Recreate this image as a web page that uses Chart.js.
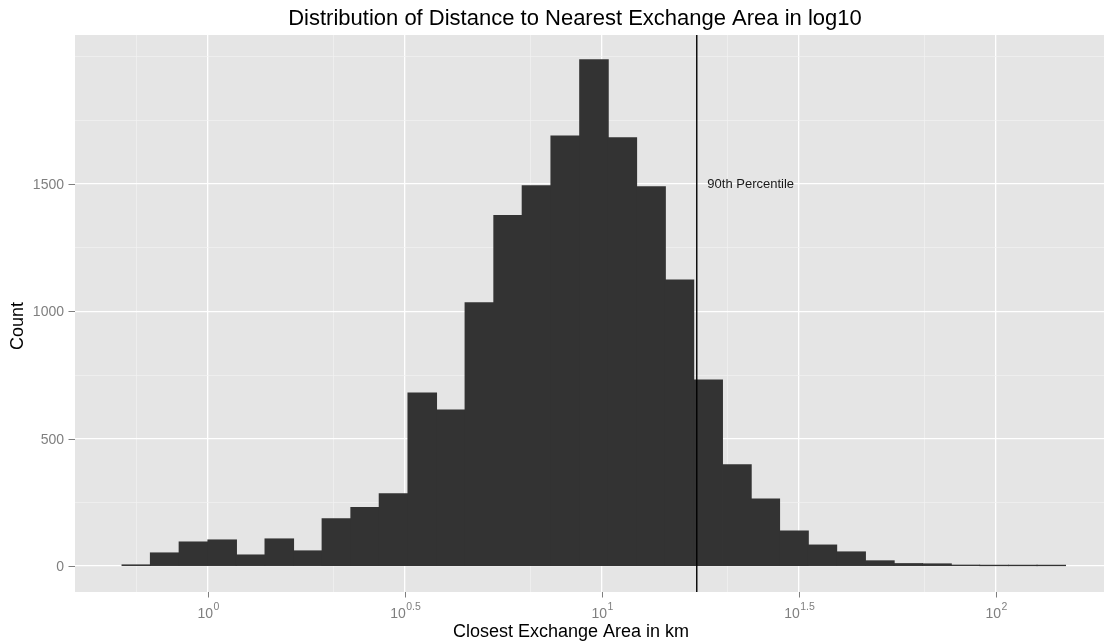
<!DOCTYPE html>
<html><head><meta charset="utf-8">
<script src="https://cdn.jsdelivr.net/npm/chart.js@4/dist/chart.umd.min.js"></script>
<style>html,body{margin:0;padding:0;background:#fff;} canvas{display:block;}</style>
</head><body>
<canvas id="c" width="1104" height="644"></canvas>
<script>
// ---- data ----
const chartTitle = 'Distribution of Distance to Nearest Exchange Area in log10';
const xAxisTitle = 'Closest Exchange Area in km';
const yAxisTitle = 'Count';
// histogram bin centres (log10 of km)
const binCentersLog10 = [-0.182,-0.110,-0.037,0.036,0.108,0.181,0.254,0.326,0.399,0.471,
  0.544,0.617,0.689,0.762,0.834,0.907,0.980,1.052,1.125,1.197,
  1.270,1.343,1.415,1.488,1.560,1.633,1.706,1.778,1.851,1.923,
  1.996,2.069,2.141];
const binCounts = [4,51,94,102,43,106,59,185,229,283,
  679,612,1033,1376,1493,1688,1987,1681,1489,1123,
  730,397,263,137,82,55,20,9,8,3,
  2,2,2];
const xTickValues = [0,0.5,1,1.5,2];
const xTickExponents = ['0','0.5','1','1.5','2'];
const yTickValues = [0,500,1000,1500];
const yTickLabels = ['0','500','1000','1500'];
const yMinorValues = [250,750,1250,1750,2000];
const percentile90Log10 = 1.241;
const percentileLabel = '90th Percentile';
const percentileLabelAt = {x: 1.378, y: 1500};

// ---- helpers ----
const X_MIN = -0.3377, X_MAX = 2.275, Y_MIN = -102, Y_MAX = 2085;
const ext = [xTickValues[0] - 0.5, ...xTickValues, xTickValues[xTickValues.length - 1] + 0.5];
const xMinor = [];
for (let i = 0; i < ext.length - 1; i++) {
  const m = Math.log10((Math.pow(10, ext[i]) + Math.pow(10, ext[i + 1])) / 2);
  if (m > X_MIN && m < X_MAX) xMinor.push(m);
}
const xGridTicks = [...xTickValues.map(v => ({value: v, isMajor: true})), ...xMinor.map(v => ({value: v, isMajor: false}))].sort((a, b) => a.value - b.value);
const yGridTicks = [...yTickValues.map(v => ({value: v, isMajor: true})), ...yMinorValues.map(v => ({value: v, isMajor: false}))].sort((a, b) => a.value - b.value);

const FONT = '"Liberation Sans", Arial, Helvetica, sans-serif';
const gridColor = c => (c.tick && c.tick.isMajor) ? '#FFFFFF' : '#F2F2F2';
const gridWidth = c => (c.tick && c.tick.isMajor) ? 1.3 : 0.7;

const ggPlugin = {
  id: 'gg',
  beforeDraw(chart) {
    const {ctx, chartArea: a} = chart;
    ctx.save();
    ctx.fillStyle = '#E5E5E5';
    ctx.fillRect(a.left, a.top, a.right - a.left, a.bottom - a.top);
    ctx.restore();
  },
  afterDatasetsDraw(chart) {
    const {ctx, chartArea: a, scales: {x, y}} = chart;
    ctx.save();
    const px = x.getPixelForValue(percentile90Log10);
    ctx.strokeStyle = '#000';
    ctx.lineWidth = 1.4;
    ctx.beginPath(); ctx.moveTo(px, a.top); ctx.lineTo(px, a.bottom); ctx.stroke();
    ctx.fillStyle = '#1A1A1A';
    ctx.font = '13px ' + FONT;
    ctx.textAlign = 'center'; ctx.textBaseline = 'middle';
    ctx.fillText(percentileLabel, x.getPixelForValue(percentileLabelAt.x), y.getPixelForValue(percentileLabelAt.y) + 0.5);
    ctx.restore();
  },
  afterDraw(chart) {
    const {ctx, chartArea: a, scales: {x, y}} = chart;
    ctx.save();
    // y ticks
    ctx.strokeStyle = '#7F7F7F'; ctx.lineWidth = 1;
    ctx.fillStyle = '#7F7F7F';
    ctx.font = '14px ' + FONT;
    ctx.textAlign = 'right'; ctx.textBaseline = 'middle';
    yTickValues.forEach((v, i) => {
      const py = Math.round(y.getPixelForValue(v)) + 0.5;
      ctx.beginPath(); ctx.moveTo(a.left - 6.5, py); ctx.lineTo(a.left, py); ctx.stroke();
      ctx.fillText(yTickLabels[i], a.left - 11, py + 1);
    });
    // x ticks with superscript labels
    ctx.textBaseline = 'alphabetic'; ctx.textAlign = 'left';
    xTickValues.forEach((v, i) => {
      const px = Math.round(x.getPixelForValue(v)) + 0.5;
      ctx.beginPath(); ctx.moveTo(px, a.bottom); ctx.lineTo(px, a.bottom + 5.5); ctx.stroke();
      ctx.font = '14px ' + FONT;
      const wb = ctx.measureText('10').width;
      ctx.font = '10.5px ' + FONT;
      const we = ctx.measureText(xTickExponents[i]).width;
      const start = px - (wb + we + 0.5) / 2;
      ctx.font = '14px ' + FONT;
      ctx.fillText('10', start, 618);
      ctx.font = '10.5px ' + FONT;
      ctx.fillText(xTickExponents[i], start + wb + 0.5, 610);
    });
    // titles
    ctx.fillStyle = '#000';
    ctx.textAlign = 'center';
    ctx.font = '22px ' + FONT;
    ctx.fillText(chartTitle, 575, 25);
    ctx.font = '18px ' + FONT;
    ctx.fillText(xAxisTitle, 571, 637);
    ctx.translate(18, 326);
    ctx.rotate(-Math.PI / 2);
    ctx.textBaseline = 'middle';
    ctx.fillText(yAxisTitle, 0, 0);
    ctx.restore();
  }
};

new Chart(document.getElementById('c'), {
  type: 'bar',
  data: {
    datasets: [{
      data: binCentersLog10.map((c, i) => ({x: c, y: binCounts[i]})),
      backgroundColor: '#333333',
      borderWidth: 0,
      inflateAmount: 0.6,
      barPercentage: 1,
      categoryPercentage: 1
    }]
  },
  options: {
    responsive: false,
    animation: false,
    layout: {padding: {left: 75, top: 35, right: 0, bottom: 52}},
    plugins: {legend: {display: false}, tooltip: {enabled: false}, title: {display: false}},
    scales: {
      x: {
        type: 'linear', min: X_MIN, max: X_MAX, offset: false,
        ticks: {display: false},
        border: {display: false},
        grid: {offset: false, drawTicks: false, color: gridColor, lineWidth: gridWidth},
        afterBuildTicks: s => { s.ticks = xGridTicks.map(t => ({...t})); }
      },
      y: {
        type: 'linear', min: Y_MIN, max: Y_MAX, beginAtZero: false,
        ticks: {display: false},
        border: {display: false},
        grid: {drawTicks: false, color: gridColor, lineWidth: gridWidth},
        afterBuildTicks: s => { s.ticks = yGridTicks.map(t => ({...t})); }
      }
    }
  },
  plugins: [ggPlugin]
});
</script>
</body></html>
